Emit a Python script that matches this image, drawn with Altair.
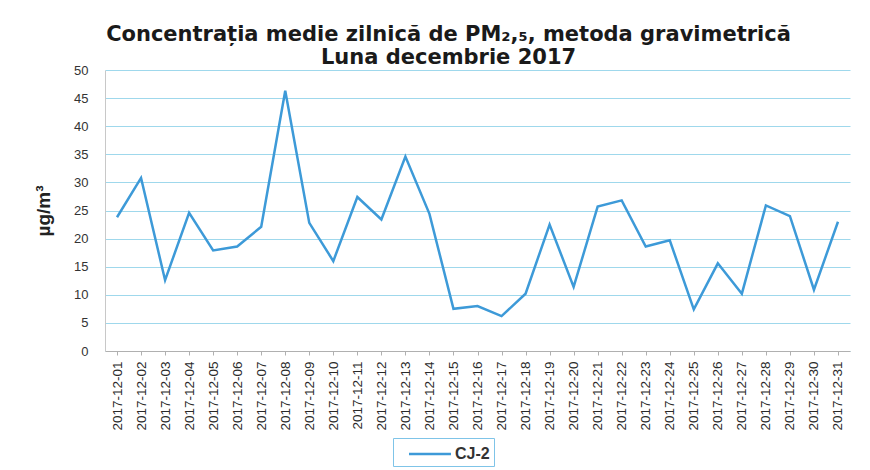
import altair as alt
import pandas as pd

days = [f"2017-12-{d:02d}" for d in range(1, 32)]
values = [23.8, 30.8, 12.6, 24.6, 17.9, 18.6, 22.1, 46.3, 22.8, 16.0,
          27.4, 23.4, 34.6, 24.4, 7.5, 8.0, 6.2, 10.2, 22.5, 11.4,
          25.7, 26.8, 18.6, 19.7, 7.4, 15.6, 10.2, 25.9, 24.0, 10.9, 23.0]
series = ["CJ-2"] * len(days)

df = pd.DataFrame({"date": days, "value": values, "station": series})

line = alt.Chart(df).mark_line(strokeWidth=2.5).encode(
    x=alt.X("date:O", sort=None,
            scale=alt.Scale(padding=0.5),
            axis=alt.Axis(title=None, labelAngle=270, labelFontSize=13.5,
                          labelFont="Liberation Sans", labelColor="#2a2a2a",
                          labelPadding=6, tickColor="#b0b0b0", tickSize=4,
                          domainColor="#b0b0b0", grid=False)),
    y=alt.Y("value:Q", scale=alt.Scale(domain=[0, 50], nice=False),
            axis=alt.Axis(title="µg/m³", values=list(range(0, 51, 5)),
                          titleFontSize=19, titleFont="Liberation Sans",
                          titleFontWeight="bold", titleColor="#222222",
                          titlePadding=20,
                          labelFontSize=13, labelFont="Liberation Sans",
                          labelColor="#333333", labelPadding=17,
                          ticks=False, domainColor="#c8c8c8",
                          gridColor="#9fd8ec", gridWidth=1)),
    color=alt.Color("station:N",
                    scale=alt.Scale(range=["#3d9ad8"]),
                    legend=alt.Legend(title=None, orient="none",
                                      legendX=288, legendY=368,
                                      symbolType="M0,0H4", symbolStrokeWidth=2.5,
                                      symbolSize=441, labelOffset=34,
                                      labelFontSize=16, labelFont="Liberation Sans",
                                      labelFontWeight="bold", labelColor="#333333",
                                      strokeColor="#7fc4e8", padding=4)),
)

chart = line.properties(
    width=745, height=281,
    autosize=alt.AutoSizeParams(type="none"),
    padding={"left": 97, "top": 62, "right": 12, "bottom": 125},
    title=alt.TitleParams(
        text=["Concentrația medie zilnică de PM₂,₅, metoda gravimetrică",
              "Luna decembrie 2017"],
        anchor="middle", frame="group", dx=-29, offset=-4,
        fontSize=21, font="DejaVu Sans", fontWeight="bold",
        color="#1a1a1a", lineHeight=23),
).configure_view(stroke=None)

chart.save("out.html", embed_options={"renderer": "svg", "actions": False})
